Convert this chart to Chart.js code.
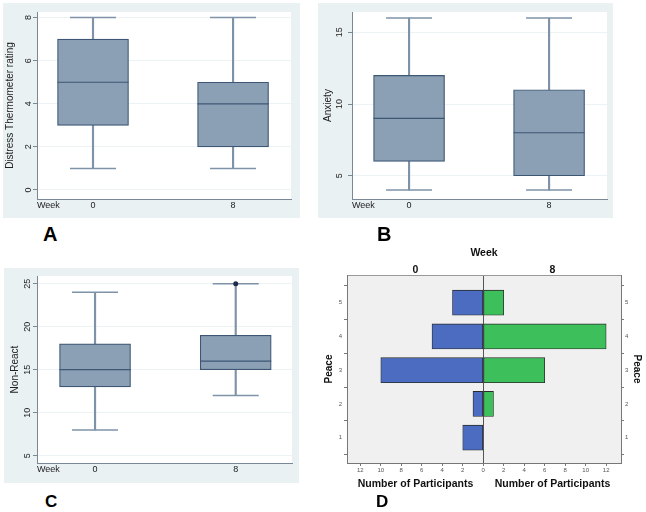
<!DOCTYPE html>
<html>
<head>
<script src="https://cdn.jsdelivr.net/npm/chart.js@4.4.1/dist/chart.umd.min.js"></script>
<style>
  body { margin: 0; background: #fff; }
  #page { position: relative; width: 646px; height: 512px; overflow: hidden; }
  .panel { position: absolute; }
  .panel canvas { display: block; }
  .boxpanel { background: #e9f1f3; }
  .letter { position: absolute; font-family: "Liberation Sans", Arial, sans-serif; font-weight: bold; color: #000; line-height: 1; }
</style>
</head>
<body>
<div id="page">
  <div class="panel boxpanel" style="left:3px;top:3px;width:297px;height:215px"><canvas id="chartA" width="297" height="215"></canvas></div>
  <div class="panel boxpanel" style="left:318px;top:3px;width:295px;height:215px"><canvas id="chartB" width="295" height="215"></canvas></div>
  <div class="panel boxpanel" style="left:4px;top:268px;width:295px;height:215px"><canvas id="chartC" width="295" height="215"></canvas></div>
  <div class="panel" style="left:322px;top:244px;width:324px;height:251px"><canvas id="chartD" width="324" height="251"></canvas></div>
  <div class="letter" style="left:43px;top:224px;font-size:20px">A</div>
  <div class="letter" style="left:377px;top:224px;font-size:20px">B</div>
  <div class="letter" style="left:45px;top:493px;font-size:17px">C</div>
  <div class="letter" style="left:376px;top:493px;font-size:17px">D</div>
</div>
<script>
    var weeks = ['0', '8'];
    var weekPos = [0, 8];

    // box plot summaries: [min, q1, median, q3, max]
    var distressWeek0 = [1, 3, 5, 7, 8];
    var distressWeek8 = [1, 2, 4, 5, 8];
    var distressTicks = [0, 2, 4, 6, 8];

    var anxietyWeek0 = [4, 6, 9, 12, 16];
    var anxietyWeek8 = [4, 5, 8, 11, 16];
    var anxietyTicks = [5, 10, 15];

    var nonReactWeek0 = [8, 13, 15, 18, 24];
    var nonReactWeek8 = [12, 15, 16, 19, 25];
    var nonReactOutliers = [[], [25]];
    var nonReactTicks = [5, 10, 15, 20, 25];

    // peace ratings, number of participants
    var peaceLevels = [1, 2, 3, 4, 5];
    var peaceWeek0 = [2, 1, 10, 5, 3];
    var peaceWeek8 = [0, 1, 6, 12, 2];
    var countTicks = [-12, -10, -8, -6, -4, -2, 0, 2, 4, 6, 8, 10, 12];

    var FONT = '"Liberation Sans", Arial, sans-serif';
    var axisGray = '#7a8896';

    var plotFill = {
        id: 'plotFill',
        beforeDraw: function (chart, args, opts) {
            var a = chart.chartArea, ctx = chart.ctx;
            ctx.save();
            ctx.fillStyle = opts.color;
            ctx.fillRect(a.left, a.top, a.right - a.left, a.bottom - a.top);
            ctx.restore();
        }
    };

    function boxChart(id, stats, outliers, yTitle, yTicks, yRange, xRange, lay) {
        var pts = function (k) {
            return stats.map(function (s, i) { return {x: weekPos[i], y: s[k]}; });
        };
        var span = function (a, b) {
            return stats.map(function (s, i) { return {x: weekPos[i], y: [s[a], s[b]]}; });
        };
        var outPts = [];
        outliers.forEach(function (list, i) {
            list.forEach(function (v) { outPts.push({x: weekPos[i], y: v}); });
        });
        new Chart(id, {
            type: 'bar',
            data: {
                datasets: [
                    {type: 'scatter', data: outPts, pointStyle: 'circle', pointRadius: 2.5,
                     pointBackgroundColor: '#1c2b49', pointBorderWidth: 0},
                    {type: 'scatter', data: pts(2), pointStyle: 'line', pointRadius: 35.5,
                     pointBorderColor: '#3c5674', pointBorderWidth: 1.2},
                    {type: 'scatter', data: pts(0).concat(pts(4)), pointStyle: 'line', pointRadius: 23,
                     pointBorderColor: '#7e93a8', pointBorderWidth: 1.5},
                    {data: span(1, 3), backgroundColor: '#8ba0b5', borderColor: '#3c5674', borderWidth: 1.2,
                     borderSkipped: false, barThickness: 71, grouped: false},
                    {data: span(0, 1), backgroundColor: '#7e93a8', barThickness: 1.5, grouped: false},
                    {data: span(3, 4), backgroundColor: '#7e93a8', barThickness: 1.5, grouped: false}
                ]
            },
            options: {
                responsive: false,
                animation: false,
                events: [],
                layout: {autoPadding: false, padding: {left: 0, top: lay.top, right: lay.right, bottom: 0}},
                plugins: {legend: {display: false}, tooltip: {enabled: false}, plotFill: {color: '#ffffff'}},
                scales: {
                    x: {
                        type: 'linear', min: xRange[0], max: xRange[1], offset: false,
                        afterBuildTicks: function (s) { s.ticks = weekPos.map(function (v) { return {value: v}; }); },
                        afterFit: function (s) { s.height = lay.xH; },
                        grid: {display: false, drawTicks: false},
                        border: {color: axisGray},
                        ticks: {padding: lay.xPad, autoSkip: false, maxRotation: 0, color: '#222',
                                font: {family: FONT, size: 9},
                                callback: function (v) { return weeks[weekPos.indexOf(v)]; }},
                        title: {display: true, text: 'Week', align: 'start', color: '#222',
                                padding: {top: 0, bottom: lay.xH - lay.xPad - 10.8},
                                font: {family: FONT, size: 9}}
                    },
                    y: {
                        type: 'linear', min: yRange[0], max: yRange[1],
                        afterBuildTicks: function (s) { s.ticks = yTicks.map(function (v) { return {value: v}; }); },
                        afterFit: function (s) { s.width = lay.yW; },
                        grid: {color: '#edf2f5', tickColor: axisGray, tickLength: 4},
                        border: {color: axisGray},
                        ticks: {minRotation: 90, maxRotation: 90, crossAlign: 'center', autoSkip: false,
                                padding: lay.yTickPad, color: '#222', font: {family: FONT, size: 9}},
                        title: {display: true, text: yTitle, color: '#222',
                                padding: {top: lay.yTitlePad, bottom: 0}, font: {family: FONT, size: 10}}
                    }
                }
            },
            plugins: [plotFill]
        });
    }

    boxChart('chartA', [distressWeek0, distressWeek8], [[], []], 'Distress Thermometer rating',
        distressTicks, [-0.42, 8.26], [-3.2, 11.31],
        {top: 9, right: 9, xH: 19, xPad: 1, yW: 34, yTickPad: 2, yTitlePad: 1});

    boxChart('chartB', [anxietyWeek0, anxietyWeek8], [[], []], 'Anxiety',
        anxietyTicks, [3.38, 16.42], [-3.26, 11.31],
        {top: 9, right: 6, xH: 19, xPad: 1, yW: 34, yTickPad: 3, yTitlePad: 4});

    boxChart('chartC', [nonReactWeek0, nonReactWeek8], nonReactOutliers, 'Non-React',
        nonReactTicks, [4.15, 25.9], [-3.3, 11.2],
        {top: 8, right: 7, xH: 20, xPad: 1.6, yW: 33, yTickPad: 0, yTitlePad: 5});

    var boldFont = {family: FONT, size: 10.5, weight: 'bold'};
    var tinyFont = {family: FONT, size: 6};
    var peaceTicks = function (s) { s.ticks = peaceLevels.map(function (v) { return {value: v}; }); };

    new Chart('chartD', {
        type: 'bar',
        data: {
            datasets: [
                {label: '0', xAxisID: 'x', yAxisID: 'y',
                 data: peaceWeek0.map(function (v, i) { return {x: -v, y: peaceLevels[i]}; }),
                 backgroundColor: '#4b6cc1', borderColor: '#2a2a2a', borderWidth: 0.8,
                 borderSkipped: false, barThickness: 25, grouped: false},
                {label: '8', xAxisID: 'x', yAxisID: 'y',
                 data: peaceWeek8.map(function (v, i) { return {x: v, y: peaceLevels[i]}; }),
                 backgroundColor: '#3dc05c', borderColor: '#2a2a2a', borderWidth: 0.8,
                 borderSkipped: false, barThickness: 25, grouped: false}
            ]
        },
        options: {
            indexAxis: 'y',
            responsive: false,
            animation: false,
            events: [],
            layout: {padding: 0},
            plugins: {legend: {display: false}, tooltip: {enabled: false}, plotFill: {color: '#f0f0f0'}},
            scales: {
                x: {
                    type: 'linear', position: 'bottom', weight: 0, min: -13.3, max: 13.45, offset: false,
                    afterBuildTicks: function (s) { s.ticks = countTicks.map(function (v) { return {value: v}; }); },
                    afterFit: function (s) { s.height = 12; },
                    grid: {
                        color: function (c) { return c.tick && c.tick.value === 0 ? '#555' : 'rgba(0,0,0,0)'; },
                        tickColor: '#777', tickLength: 3
                    },
                    border: {color: '#777'},
                    ticks: {padding: 1, autoSkip: false, maxRotation: 0, color: '#555', font: tinyFont,
                            callback: function (v) { return Math.abs(v); }}
                },
                x2: {
                    type: 'category', position: 'bottom', weight: 1, offset: true,
                    labels: ['Number of Participants', 'Number of Participants'],
                    afterFit: function (s) { s.height = 20; },
                    grid: {display: false, drawTicks: false},
                    border: {display: false},
                    ticks: {padding: 3, autoSkip: false, maxRotation: 0, color: '#111', font: boldFont}
                },
                xTop: {
                    type: 'category', position: 'top', offset: true, labels: weeks,
                    afterFit: function (s) { s.height = 31; },
                    grid: {display: false, drawTicks: false},
                    border: {color: '#999'},
                    ticks: {padding: 0, autoSkip: false, maxRotation: 0, color: '#111',
                            font: {family: FONT, size: 10.5, weight: 'bold', lineHeight: 1}},
                    title: {display: true, text: 'Week', color: '#111', padding: {top: 2.7, bottom: 0}, font: boldFont}
                },
                y: {
                    type: 'linear', position: 'left', min: 0.25, max: 5.82, offset: false,
                    afterBuildTicks: peaceTicks,
                    afterFit: function (s) { s.width = 25; },
                    grid: {drawOnChartArea: false, color: '#777', tickLength: 3},
                    border: {color: '#777'},
                    ticks: {padding: 2, color: '#555', font: tinyFont},
                    title: {display: true, text: 'Peace', color: '#111', padding: {top: 1, bottom: 0},
                            font: {family: FONT, size: 10, weight: 'bold'}}
                },
                y2: {
                    type: 'linear', position: 'right', min: 0.25, max: 5.82, offset: false,
                    afterBuildTicks: peaceTicks,
                    afterFit: function (s) { s.width = 25; },
                    grid: {drawOnChartArea: false, color: '#777', tickLength: 3},
                    border: {color: '#777'},
                    ticks: {padding: 1, color: '#555', font: tinyFont},
                    title: {display: true, text: 'Peace', color: '#111', padding: {top: 3, bottom: 0},
                            font: {family: FONT, size: 10, weight: 'bold'}}
                }
            }
        },
        plugins: [plotFill]
    });
</script>
</body>
</html>
